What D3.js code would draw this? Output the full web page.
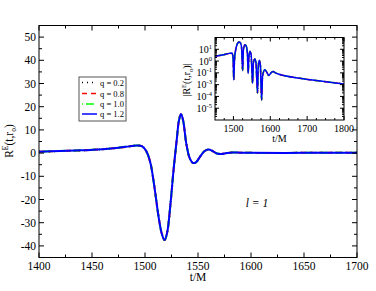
<!DOCTYPE html>
<html>
<head>
<meta charset="utf-8">
<script src="https://cdn.jsdelivr.net/npm/d3@7"></script>
<style>
  body { margin: 0; background: #fff; }
  svg { display: block; font-family: "Liberation Serif", "DejaVu Serif", serif; }
</style>
</head>
<body>
<svg id="main"></svg>
<script>
// main panel: R^E(t, r_o) vs t/M (all four q curves lie on top of each other)
let tMain = [1400, 1420, 1440, 1460, 1475, 1485, 1492, 1497, 1501, 1505, 1509, 1513, 1516, 1518.5, 1521, 1524, 1527, 1530, 1532, 1534, 1536, 1539, 1542, 1545, 1548, 1552, 1556, 1560, 1564, 1568, 1572, 1577, 1582, 1590, 1600, 1650, 1700]
let rMain = [0.6, 0.9, 1.2, 1.7, 2.3, 2.9, 3.3, 3.0, 1.0, -4, -15, -28, -35, -37.5, -34, -22, -7, 6, 14, 16.9, 14, 4, -2, -4.2, -4, -1.5, 0.8, 1.5, 0.8, -0.2, -0.4, 0, 0.3, 0.2, 0.1, 0.1, 0.1]

// inset: |R^E(t, r_o)| on a log axis
let tInset = [1450, 1470, 1490, 1496, 1499, 1501, 1503, 1507, 1511, 1515, 1519, 1522, 1525, 1527, 1531, 1535, 1538, 1540, 1542, 1545, 1548, 1552, 1554, 1558, 1561, 1565.5, 1567, 1570, 1573, 1576.5, 1579, 1585, 1590, 1596, 1602, 1608, 1614, 1622, 1680, 1750, 1800]
let rInset = [2.6, 3.3, 4.5, 4.8, 2.0, 0.025, 1.5, 12, 30, 42, 35, 15, 0.16, 8, 24, 18, 4, 0.09, 2.5, 6.5, 3.5, 0.013, 0.6, 1.5, 0.8, 0.002, 0.2, 1.2, 0.5, 0.0005, 0.05, 0.18, 0.12, 0.06, 0.1, 0.13, 0.1, 0.08, 0.035, 0.018, 0.0115]

let qLabels = ['q = 0.2', 'q = 0.8', 'q = 1.0', 'q = 1.2']
let qColors = ['#000000', '#ff0000', '#00ff00', '#0000ff']
let qDash = ['1,4', '5,4', '1,3,8,3', null]

let xTicksMain = [1400, 1450, 1500, 1550, 1600, 1650, 1700]
let yTicksMain = [-40, -30, -20, -10, 0, 10, 20, 30, 40, 50]
let xTicksInset = [1500, 1600, 1700, 1800]
let yTicksInset = [1e1, 1e0, 1e-1, 1e-2, 1e-3, 1e-4]
let yTickExpInset = ['1', '0', '-1', '-3', '-4', '-5']   // as printed on the figure

let width = 376
let height = 291

let svg = d3.select('#main')
let xScale, yScale, xInset, yInset

const drawCanvas = () => {
    svg.attr('width', width).attr('height', height)
}

const generateScales = () => {
    xScale = d3.scaleLinear().domain([1400, 1700]).range([39, 357])
    yScale = d3.scaleLinear().domain([-45, 55]).range([257.5, 25.5])
    xInset = d3.scaleLinear().domain([1450, 1800]).range([215, 344])
    yInset = d3.scaleLog().domain([1e-5, 1e2]).range([120, 37.5])
}

// inward ticks on all four sides of a box
const drawTicks = (xs, ys, xMajor, xMinor, yMajor, yMinor, big, small) => {
    let [x0, x1] = xs.range()
    let [y0, y1] = ys.range()
    let g = svg.append('g').attr('stroke', '#000').attr('stroke-width', 1)
    xMajor.forEach(v => {
        g.append('line').attr('x1', xs(v)).attr('x2', xs(v)).attr('y1', y0).attr('y2', y0 - big)
        g.append('line').attr('x1', xs(v)).attr('x2', xs(v)).attr('y1', y1).attr('y2', y1 + big)
    })
    xMinor.forEach(v => {
        g.append('line').attr('x1', xs(v)).attr('x2', xs(v)).attr('y1', y0).attr('y2', y0 - small)
        g.append('line').attr('x1', xs(v)).attr('x2', xs(v)).attr('y1', y1).attr('y2', y1 + small)
    })
    yMajor.forEach(v => {
        g.append('line').attr('y1', ys(v)).attr('y2', ys(v)).attr('x1', x0).attr('x2', x0 + big)
        g.append('line').attr('y1', ys(v)).attr('y2', ys(v)).attr('x1', x1).attr('x2', x1 - big)
    })
    yMinor.forEach(v => {
        g.append('line').attr('y1', ys(v)).attr('y2', ys(v)).attr('x1', x0).attr('x2', x0 + small)
        g.append('line').attr('y1', ys(v)).attr('y2', ys(v)).attr('x1', x1).attr('x2', x1 - small)
    })
    svg.append('rect')
        .attr('x', x0).attr('y', y1)
        .attr('width', x1 - x0).attr('height', y0 - y1)
        .attr('fill', 'none').attr('stroke', '#000').attr('stroke-width', 1)
}

const plotMain = () => {
    let pts = tMain.map((t, i) => [t, rMain[i]])
    let line = d3.line()
        .x(d => xScale(d[0]))
        .y(d => yScale(d[1]))
        .curve(d3.curveCatmullRom.alpha(0.5))
    qLabels.forEach((q, i) => {
        svg.append('path')
            .datum(pts)
            .attr('d', line)
            .attr('fill', 'none')
            .attr('stroke', qColors[i])
            .attr('stroke-width', 2)
            .attr('stroke-dasharray', qDash[i])
    })

    let xMinor = d3.range(1425, 1700, 50)
    let yMinor = d3.range(-45, 55, 10)
    drawTicks(xScale, yScale, xTicksMain, xMinor, yTicksMain, yMinor, 5, 3)

    svg.append('g').selectAll('text')
        .data(xTicksMain).enter().append('text')
        .attr('x', d => xScale(d)).attr('y', 270)
        .attr('text-anchor', 'middle').attr('font-size', 11.5)
        .text(d => d)
    svg.append('g').selectAll('text')
        .data(yTicksMain).enter().append('text')
        .attr('x', 36).attr('y', d => yScale(d) + 4)
        .attr('text-anchor', 'end').attr('font-size', 11.5)
        .text(d => d)

    svg.append('text')
        .attr('x', 198).attr('y', 281)
        .attr('text-anchor', 'middle').attr('font-size', 11.5)
        .text('t/M')

    let ylab = svg.append('text')
        .attr('transform', 'translate(13,141) rotate(-90)')
        .attr('text-anchor', 'middle').attr('font-size', 11.5)
    ylab.append('tspan').text('R')
    ylab.append('tspan').attr('font-size', 7.5).attr('dy', -5).text('E')
    ylab.append('tspan').attr('dy', 5).text('(t,r')
    ylab.append('tspan').attr('font-size', 7.5).attr('dy', 3).text('o')
    ylab.append('tspan').attr('dy', -3).text(')')

    svg.append('text')
        .attr('x', 257).attr('y', 207)
        .attr('text-anchor', 'middle').attr('font-size', 11.5)
        .attr('font-style', 'italic')
        .text('l = 1')
}

const plotLegend = () => {
    let g = svg.append('g')
    g.append('rect')
        .attr('x', 79).attr('y', 77).attr('width', 47).attr('height', 44)
        .attr('fill', '#fff').attr('stroke', '#555').attr('stroke-width', 1)
    let rows = [82.5, 93.5, 104, 114]
    qLabels.forEach((q, i) => {
        g.append('line')
            .attr('x1', 82).attr('x2', 97).attr('y1', rows[i]).attr('y2', rows[i])
            .attr('stroke', qColors[i]).attr('stroke-width', 1.5)
            .attr('stroke-dasharray', qDash[i])
        g.append('text')
            .attr('x', 100).attr('y', rows[i] + 3)
            .attr('font-size', 8.5)
            .text(q)
    })
}

const plotInset = () => {
    let [x0, x1] = xInset.range()
    let [y0, y1] = yInset.range()
    svg.append('rect')
        .attr('x', x0).attr('y', y1).attr('width', x1 - x0).attr('height', y0 - y1)
        .attr('fill', '#fff')

    let pts = tInset.map((t, i) => [t, rInset[i]])
    let line = d3.line()
        .x(d => xInset(d[0]))
        .y(d => yInset(d[1]))
        .curve(d3.curveMonotoneX)
    qLabels.forEach((q, i) => {
        svg.append('path')
            .datum(pts)
            .attr('d', line)
            .attr('fill', 'none')
            .attr('stroke', qColors[i])
            .attr('stroke-width', 1.5)
            .attr('stroke-dasharray', qDash[i])
    })

    let xMinor = d3.range(1475, 1800, 25).filter(v => v % 100 != 0)
    let yMajor = d3.range(-4, 2).map(e => Math.pow(10, e))
    let yMinor = []
    d3.range(-5, 2).forEach(e => {
        d3.range(2, 10).forEach(m => yMinor.push(m * Math.pow(10, e)))
    })
    drawTicks(xInset, yInset, xTicksInset, xMinor, yMajor, yMinor, 4, 2)

    svg.append('g').selectAll('text')
        .data(xTicksInset).enter().append('text')
        .attr('x', d => xInset(d)).attr('y', 132)
        .attr('text-anchor', 'middle').attr('font-size', 10)
        .text(d => d)

    yTicksInset.forEach((v, i) => {
        let t = svg.append('text')
            .attr('x', 212).attr('y', yInset(v) + 3.5)
            .attr('text-anchor', 'end').attr('font-size', 10)
        t.append('tspan').text('10')
        t.append('tspan').attr('font-size', 6.5).attr('dy', -4).text(yTickExpInset[i])
    })

    svg.append('text')
        .attr('x', 279.5).attr('y', 142)
        .attr('text-anchor', 'middle').attr('font-size', 10)
        .text('t/M')

    let ylab = svg.append('text')
        .attr('transform', 'translate(190,80) rotate(-90)')
        .attr('text-anchor', 'middle').attr('font-size', 10)
    ylab.append('tspan').text('|R')
    ylab.append('tspan').attr('font-size', 6.5).attr('dy', -4.5).text('E')
    ylab.append('tspan').attr('dy', 4.5).text('(t,r')
    ylab.append('tspan').attr('font-size', 6.5).attr('dy', 2.5).text('o')
    ylab.append('tspan').attr('dy', -2.5).text(')|')
}

drawCanvas()
generateScales()
plotMain()
plotLegend()
plotInset()
</script>
</body>
</html>
